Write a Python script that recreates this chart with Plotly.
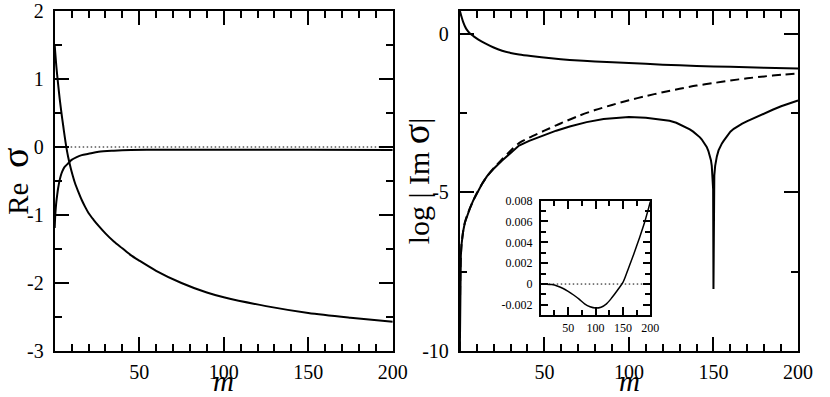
import plotly.graph_objects as go

# ---- left panel: Re sigma vs m ----
m_re_a = [0, 1, 2, 3, 4, 5, 6, 7, 8, 9, 10, 12, 14, 16, 18, 20, 23, 26, 30, 35, 40, 45, 50, 60, 75,
          90, 100, 125, 150, 175, 200]
re_a = [1.50, 1.18, 0.93, 0.70, 0.50, 0.32, 0.14, -0.02, -0.15, -0.26, -0.36, -0.53, -0.66, -0.78,
        -0.88, -0.97, -1.07, -1.16, -1.27, -1.39, -1.49, -1.59, -1.67, -1.82, -2.00, -2.14, -2.21,
        -2.34, -2.44, -2.51, -2.57]

m_re_b = [0, 0.3, 0.7, 1, 1.5, 2, 3, 4, 5, 6, 8, 10, 13, 16, 20, 26, 35, 45, 60, 100, 150, 200]
re_b = [-1.19, -1.02, -0.88, -0.80, -0.70, -0.61, -0.48, -0.39, -0.33, -0.29, -0.24, -0.19, -0.15,
        -0.12, -0.10, -0.07, -0.055, -0.045, -0.04, -0.04, -0.04, -0.045]

# ---- right panel: log|Im sigma| vs m ----
m_im_top = [0, 0.5, 1, 2, 3, 4, 6, 8, 11, 15, 20, 25, 30, 35, 42, 54, 65, 80, 100, 120, 140, 160, 180, 200]
im_top = [0.72, 0.62, 0.53, 0.36, 0.23, 0.13, 0.0, -0.08, -0.19, -0.31, -0.44, -0.54, -0.61, -0.66,
          -0.71, -0.78, -0.83, -0.88, -0.93, -0.98, -1.02, -1.05, -1.08, -1.10]

m_im_low = [0, 0.1, 0.3, 0.6, 1, 1.5, 2, 3, 4.5, 6, 8, 10, 13, 16, 20, 25, 30, 35, 41, 50, 57, 65, 75,
            85, 94, 100, 110, 120, 124, 128, 131, 134, 136, 138, 140, 142, 143, 144, 145, 146, 147,
            148, 148.5, 149, 149.5, 149.8, 150, 150.2, 150.5, 151, 151.5, 152, 153, 154, 155, 156,
            158, 160, 162, 164, 167, 170, 174, 177, 181, 185, 190, 195, 200]
im_low = [-10, -8.5, -7.5, -7.0, -6.65, -6.4, -6.22, -5.95, -5.7, -5.5, -5.25, -5.03, -4.75, -4.5,
          -4.26, -4.0, -3.75, -3.53, -3.38, -3.19, -3.06, -2.93, -2.79, -2.69, -2.645, -2.63, -2.65,
          -2.71, -2.75, -2.81, -2.88, -2.96, -3.02, -3.09, -3.17, -3.27, -3.33, -3.40, -3.48, -3.57,
          -3.70, -3.87, -3.99, -4.17, -4.47, -4.90, -8.05, -4.90, -4.47, -4.17, -3.99, -3.87, -3.68,
          -3.55, -3.46, -3.38, -3.23, -3.09, -3.00, -2.93, -2.84, -2.76, -2.66, -2.58, -2.49, -2.40,
          -2.29, -2.20, -2.11]

m_im_dash = [0, 0.1, 0.3, 0.6, 1, 1.5, 2, 3, 4.5, 6, 8, 10, 13, 16, 20, 25, 30, 35, 41, 50, 57, 61, 70,
             80, 90, 100, 110, 120, 130, 140, 150, 160, 170, 180, 190, 200]
im_dash = [-10, -8.5, -7.5, -7.0, -6.65, -6.4, -6.22, -5.95, -5.7, -5.5, -5.25, -5.03, -4.75, -4.5,
           -4.24, -3.96, -3.69, -3.45, -3.28, -3.06, -2.89, -2.80, -2.60, -2.41, -2.25, -2.10, -1.97,
           -1.85, -1.74, -1.64, -1.56, -1.48, -1.41, -1.35, -1.30, -1.26]

# ---- inset: Im sigma vs m ----
m_inset = [0, 10, 20, 30, 40, 50, 60, 70, 80, 90, 100, 110, 120, 130, 140, 150, 160, 170, 180, 190, 200]
im_inset = [0, -0.00001, -0.00005, -0.00018, -0.0004, -0.0007, -0.00105, -0.00145, -0.0019, -0.00218,
            -0.0023, -0.00222, -0.0019, -0.0013, -0.0006, 0.00015, 0.0015, 0.0029, 0.0044, 0.006, 0.0079]

zero_x = [0, 200]
zero_y = [0, 0]

# tick labels
x_ticks = [50, 100, 150, 200]
re_ticks = [-3, -2, -1, 0, 1, 2]
im_ticks = [-10, -5, 0]
inset_yticks = [-0.002, 0, 0.002, 0.004, 0.006, 0.008]
inset_ylabels = ["-0.002", "0", "0.002", "0.004", "0.006", "0.008"]

W, H = 830, 397
FONT = "Liberation Serif"

fig = go.Figure()

solid = dict(color="black", width=2)
dotted = dict(color="black", width=1, dash="1.5px,2.5px")

fig.add_trace(go.Scatter(x=zero_x, y=zero_y, mode="lines", line=dotted, xaxis="x", yaxis="y"))
fig.add_trace(go.Scatter(x=m_re_a, y=re_a, mode="lines", line=dict(solid, shape="spline", smoothing=0.8),
                         xaxis="x", yaxis="y"))
fig.add_trace(go.Scatter(x=m_re_b, y=re_b, mode="lines", line=dict(solid, shape="spline", smoothing=0.8),
                         xaxis="x", yaxis="y"))

fig.add_trace(go.Scatter(x=m_im_top, y=im_top, mode="lines", line=dict(solid, shape="spline", smoothing=0.8),
                         xaxis="x2", yaxis="y2"))
fig.add_trace(go.Scatter(x=m_im_low, y=im_low, mode="lines", line=solid, xaxis="x2", yaxis="y2"))
fig.add_trace(go.Scatter(x=m_im_dash, y=im_dash, mode="lines",
                         line=dict(color="black", width=2, dash="9px,5px", shape="spline", smoothing=0.8),
                         xaxis="x2", yaxis="y2"))

fig.add_trace(go.Scatter(x=zero_x, y=zero_y, mode="lines", line=dotted, xaxis="x3", yaxis="y3"))
fig.add_trace(go.Scatter(x=m_inset, y=im_inset, mode="lines",
                         line=dict(color="black", width=1.5, shape="spline", smoothing=0.8),
                         xaxis="x3", yaxis="y3"))


def frame(size, major, minor, lw=2):
    return dict(
        showline=True, linecolor="black", linewidth=lw, mirror="allticks",
        ticks="inside", ticklen=major, tickwidth=1.5, tickcolor="black",
        showgrid=False, zeroline=False, ticklabeloverflow="allow",
        tickfont=dict(family=FONT, size=size, color="black"),
        minor=dict(ticks="inside", ticklen=minor, tickwidth=1.5, tickcolor="black", showgrid=False),
    )


xl = frame(20, 14, 7)
xl.update(domain=[55.7 / W, 400 / W], range=[0, 200], tickmode="array", tickvals=x_ticks,
          ticktext=[str(v) for v in x_ticks], anchor="y", ticklabelstandoff=2)
xl["minor"].update(tickmode="linear", tick0=0, dtick=10)

yl = frame(20, 14, 7)
yl.update(range=[-3, 2], tickmode="array", tickvals=re_ticks, ticktext=[str(v) for v in re_ticks],
          anchor="x", ticklabelstandoff=5)
yl["minor"].update(tickmode="linear", tick0=0, dtick=0.5)

xr = frame(20, 14, 7)
xr.update(domain=[468.3 / W, 812.7 / W], range=[0, 200], tickmode="array", tickvals=x_ticks,
          ticktext=[str(v) for v in x_ticks], anchor="y2", ticklabelstandoff=2)
xr["minor"].update(tickmode="linear", tick0=0, dtick=10)

yr = frame(20, 14, 7)
yr.update(range=[-10, 0.71], tickmode="array", tickvals=im_ticks, ticktext=[str(v) for v in im_ticks],
          anchor="x2", ticklabelstandoff=5)
yr["minor"].update(tickmode="linear", tick0=0, dtick=2.5)

xi = frame(12, 9, 6, lw=1.5)
xi.update(domain=[550.7 / W, 662.3 / W], range=[0, 200], tickmode="array", tickvals=x_ticks,
          ticktext=[str(v) for v in x_ticks], anchor="y3", ticklabelstandoff=1)
xi["minor"].update(tickmode="linear", tick0=0, dtick=25)

yi = frame(12, 8, 6, lw=1.5)
yi.update(domain=[(351 - 315) / 343, (351 - 199.3) / 343], range=[-0.003, 0.008], tickmode="array",
          tickvals=inset_yticks, ticktext=inset_ylabels, anchor="x3", ticklabelstandoff=4)
yi["minor"].update(tickmode="linear", tick0=0, dtick=0.001)

fig.update_layout(
    width=W, height=H,
    margin=dict(l=0, r=0, t=8, b=H - 351),
    paper_bgcolor="white", plot_bgcolor="white",
    font=dict(family=FONT, color="black"),
    showlegend=False,
    xaxis=xl, yaxis=yl, xaxis2=xr, yaxis2=yr, xaxis3=xi, yaxis3=yi,
)

title_font = dict(family=FONT, size=29, color="black")
big_sigma = "<span style='font-size:38px'>σ</span>"
fig.add_annotation(text="Re\u00a0\u00a0" + big_sigma, x=15 / W, y=0.5, xref="paper", yref="paper",
                   textangle=-90, showarrow=False, font=title_font, xanchor="center", yanchor="middle")
fig.add_annotation(text="log | Im " + big_sigma + "|", x=424 / W, y=0.5, xref="paper", yref="paper",
                   textangle=-90, showarrow=False, font=dict(title_font, size=30),
                   xanchor="center", yanchor="middle")
fig.add_annotation(text="<i>m</i>", x=228 / W, y=(351 - 381) / 343, xref="paper", yref="paper",
                   showarrow=False, font=title_font, xanchor="center", yanchor="middle")
fig.add_annotation(text="<i>m</i>", x=641 / W, y=(351 - 381) / 343, xref="paper", yref="paper",
                   showarrow=False, font=title_font, xanchor="center", yanchor="middle")

# drop the browser's default body margin so the figure sits at the page origin
fig.write_html("out.html", config={"displayModeBar": False},
               post_script="document.body.style.margin='0';document.body.style.overflow='hidden';")
